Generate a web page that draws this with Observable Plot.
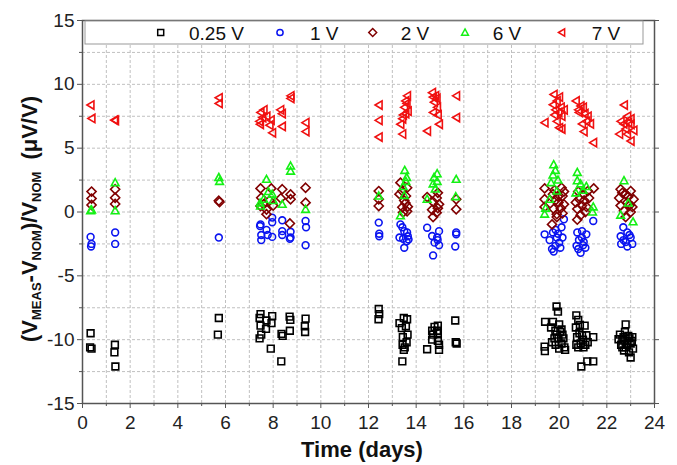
<!DOCTYPE html>
<html><head><meta charset="utf-8">
<script src="https://cdn.jsdelivr.net/npm/d3@7"></script>
<script src="https://cdn.jsdelivr.net/npm/@observablehq/plot@0.6"></script>
<style>
body{margin:0;background:#fff}
svg{font-family:"Liberation Sans",Arial,sans-serif}
</style>
</head><body><div id="chart"></div>
<script>
const seriesNames = ["0.25 V", "1 V", "2 V", "6 V", "7 V"];
const seriesColors = ["#000000", "#0a14f0", "#800000", "#14f014", "#f01010"];
const xTicks = [0, 2, 4, 6, 8, 10, 12, 14, 16, 18, 20, 22, 24];
const yTicks = [-15, -10, -5, 0, 5, 10, 15];

const v025 = [
[0.34,-9.5],[0.32,-10.6],[0.38,-10.7],
[1.36,-10.4],[1.34,-11.0],[1.38,-12.1],
[5.72,-8.3],[5.68,-9.6],
[7.47,-8.0],[7.43,-8.3],[7.47,-8.9],[7.43,-9.9],[7.5,-9.6],[7.72,-8.5],[7.7,-9.15],[7.96,-8.15],[7.93,-8.7],[7.9,-10.7],[8.35,-9.55],[8.4,-9.7],[8.34,-11.7],[8.69,-8.2],[8.72,-8.45],[8.7,-9.3],[9.36,-8.35],[9.33,-8.95],[9.34,-9.4],
[12.43,-7.6],[12.45,-8.0],[12.42,-8.4],
[13.48,-8.3],[13.62,-8.4],[13.3,-8.7],[13.57,-8.95],[13.4,-9.1],[13.64,-9.6],[13.44,-9.8],[13.6,-10.2],[13.43,-10.4],[13.52,-10.6],[13.48,-10.8],[13.42,-11.7],
[14.91,-8.9],[14.77,-9.0],[14.67,-9.3],[14.88,-9.3],[14.71,-9.6],[14.91,-9.5],[14.67,-10.0],[14.91,-10.1],[14.96,-10.4],[14.46,-10.75],[14.96,-10.8],
[15.64,-8.5],[15.66,-10.2],[15.7,-10.3],
[19.89,-7.4],[19.95,-7.8],[19.41,-8.6],[19.74,-8.6],[20.0,-8.8],[19.66,-9.05],[19.84,-9.3],[20.1,-9.2],[19.9,-9.6],[20.14,-9.6],[19.7,-10.2],[19.97,-9.9],[20.1,-10.3],[20.22,-10.6],[20.0,-10.7],[19.39,-10.55],[19.4,-10.9],[19.8,-9.9],[20.05,-9.4],[19.85,-10.4],[20.18,-9.9],[20.25,-10.8],
[20.72,-8.1],[20.8,-8.45],[20.7,-9.05],[21.07,-8.9],[20.87,-8.85],[20.75,-9.8],[20.96,-9.65],[21.14,-9.65],[21.43,-9.8],[20.9,-10.3],[21.02,-10.6],[20.72,-10.4],[21.2,-10.2],[20.93,-12.1],[21.18,-11.7],[21.43,-11.7],[20.85,-9.5],[21.0,-10.0],[21.1,-10.4],[20.8,-10.6],
[22.79,-8.8],[22.76,-9.4],[22.55,-9.6],[22.9,-9.7],[23.07,-9.8],[22.65,-10.0],[22.86,-10.1],[22.49,-9.97],[23.0,-10.3],[22.6,-10.4],[22.79,-10.6],[22.93,-11.0],[23.0,-11.4],[22.72,-10.85],[23.1,-10.7],[22.7,-9.8],[22.85,-10.4],[22.95,-9.9],[22.65,-10.6],[23.05,-10.1]
];
const v1 = [
[0.34,-1.95],[0.38,-2.5],[0.36,-2.7],
[1.37,-1.6],[1.37,-2.5],
[5.72,-2.0],
[7.47,-0.97],[7.45,-1.1],[7.5,-1.8],[7.5,-2.2],[7.72,-1.4],[7.77,-1.8],[7.96,-0.44],[7.96,-0.8],[7.96,-1.95],[8.38,-0.65],[8.38,-1.5],[8.38,-1.8],[8.73,-1.55],[8.73,-2.0],[8.7,-2.1],[9.36,-0.7],[9.38,-1.2],[9.36,-2.6],
[12.43,-0.83],[12.45,-1.7],[12.45,-1.9],
[13.34,-0.97],[13.42,-1.2],[13.5,-1.5],[13.62,-1.6],[13.3,-2.0],[13.65,-1.9],[13.45,-2.1],[13.6,-2.3],[13.5,-2.8],[13.68,-2.15],
[14.46,-1.23],[14.67,-1.88],[14.96,-1.5],[14.88,-2.0],[14.77,-2.4],[14.96,-2.6],[14.71,-3.4],[14.9,-2.2],
[15.68,-1.6],[15.68,-1.75],[15.64,-2.7],
[19.39,-1.75],[19.74,-1.6],[20.1,-1.2],[20.2,-0.57],[19.9,-2.0],[19.84,-2.65],[19.7,-2.9],[20.0,-2.4],[20.14,-2.0],[19.95,-1.7],[19.77,-3.1],[19.6,-2.2],[20.05,-2.8],[19.85,-1.4],
[20.76,-1.6],[20.96,-1.5],[21.14,-1.75],[20.83,-2.2],[21.03,-2.35],[20.73,-2.65],[20.9,-3.2],[21.1,-2.8],[21.43,-0.7],[20.95,-2.0],[20.8,-2.9],[21.0,-2.6],
[22.69,-1.2],[22.86,-1.6],[22.58,-1.9],[23.0,-2.0],[22.79,-2.35],[22.7,-2.2],[23.07,-2.5],[22.86,-2.7],[22.95,-1.8],[22.6,-2.5]
];
const v2 = [
[0.38,1.6],[0.38,1.05],[0.38,0.55],
[1.37,1.78],[1.37,1.12],[1.37,0.63],
[5.72,0.88],[5.75,0.78],
[7.47,1.85],[7.5,1.12],[7.47,0.47],[7.72,0.2],[7.72,-0.17],[7.92,1.85],[8.0,0.5],[8.38,1.78],[8.32,1.07],[8.73,1.38],[8.73,1.0],[8.7,-0.9],[9.36,1.9],[9.36,0.73],[7.6,0.6],[7.85,0.9],
[12.43,1.64],[12.43,1.0],[12.43,0.47],
[13.34,2.3],[13.42,1.64],[13.3,1.4],[13.62,1.9],[13.57,1.25],[13.5,0.9],[13.65,0.42],[13.42,0.37],[13.62,0.05],[13.45,-0.03],[13.55,0.7],
[14.46,1.17],[14.91,1.5],[14.86,1.1],[14.71,0.8],[14.96,0.6],[14.67,0.18],[14.86,-0.05],[14.71,-0.4],[14.91,0.3],
[15.68,1.0],[15.68,0.21],
[19.39,1.85],[19.39,1.0],[19.39,0.4],[19.74,1.4],[19.84,0.9],[20.1,1.9],[20.14,1.25],[19.97,0.75],[19.77,0.24],[20.07,0.3],[19.9,-0.17],[20.14,-0.1],[19.7,-0.97],[19.9,-0.4],[19.8,1.7],[20.2,0.6],[19.95,1.2],[20.2,1.6],
[20.7,0.75],[20.76,0.24],[21.03,1.4],[21.2,1.64],[21.45,1.85],[20.9,-0.25],[21.1,0.0],[20.96,0.5],[20.76,-0.6],[21.25,1.1],[20.85,1.0],[21.05,0.9],[20.8,1.6],[21.15,0.4],
[22.58,1.78],[22.79,1.4],[23.0,1.64],[22.52,1.1],[22.86,0.75],[23.07,0.4],[22.72,0.1],[23.0,0.0],[22.79,-0.4],[22.58,0.5],[23.12,1.0],[22.65,1.5],[22.9,1.2],[22.95,0.5]
];
const v6 = [
[0.38,0.16],[0.34,0.1],
[1.37,2.3],[1.37,0.1],
[5.72,2.7],[5.75,2.4],
[7.72,2.56],[7.47,0.47],[7.6,1.0],[7.96,1.4],[8.38,0.6],[8.73,3.6],[8.73,3.2],[9.36,0.2],[7.45,0.7],[7.8,1.6],[8.0,0.9],
[12.43,1.25],
[13.52,3.26],[13.6,2.7],[13.57,2.4],[13.34,-0.3],[13.5,1.3],[13.45,2.0],
[14.88,3.0],[14.75,2.7],[14.71,2.2],[14.88,2.4],[14.46,1.0],[14.8,1.8],
[15.68,2.56],[15.66,1.2],
[19.77,3.7],[19.84,3.26],[19.74,2.9],[19.66,2.3],[19.9,1.64],[19.39,-0.17],[19.43,0.3],[19.95,2.5],[19.6,1.0],
[20.76,3.1],[20.76,2.45],[20.9,2.2],[21.14,2.0],[21.43,0.4],[21.4,0.0],[20.7,1.5],[21.0,1.7],
[22.72,2.45],[22.58,-0.25],[23.1,-0.77],[22.9,0.7]
];
const v7 = [
[0.34,8.38],[0.38,7.33],
[1.37,7.18],[1.33,7.2],
[5.72,8.95],[5.72,8.5],
[7.47,7.8],[7.6,8.0],[7.42,7.1],[7.72,7.5],[7.45,6.87],[7.9,7.2],[7.96,6.2],[8.3,8.0],[8.37,7.7],[8.37,6.7],[8.73,9.1],[8.73,8.9],[9.36,7.0],[9.36,6.3],[7.55,7.4],[7.85,6.8],
[12.43,8.38],[12.43,7.18],[12.43,5.87],
[13.62,9.1],[13.55,8.7],[13.5,8.2],[13.55,7.7],[13.42,7.3],[13.34,6.87],[13.42,6.1],[13.6,8.5],[13.65,7.9],[13.45,7.6],
[14.67,9.35],[14.8,9.1],[14.75,8.6],[14.88,8.2],[14.71,7.8],[14.91,7.6],[14.96,6.87],[14.46,6.34],[14.86,8.9],[14.7,9.0],
[15.68,9.1],[15.68,7.4],
[19.39,7.0],[19.77,9.2],[19.9,8.7],[20.0,9.0],[19.84,8.0],[20.07,8.2],[19.97,7.8],[20.1,7.5],[19.9,7.1],[20.0,6.6],[20.1,6.5],[19.74,8.4],[19.8,7.6],[20.2,8.0],
[20.7,8.7],[20.9,8.3],[20.83,7.8],[21.07,7.7],[21.2,7.5],[20.96,6.9],[21.03,6.3],[21.43,5.43],[21.14,7.1],[20.8,8.0],[21.0,8.2],[21.3,6.9],
[22.72,8.38],[22.86,7.5],[23.0,7.3],[22.58,7.1],[23.0,6.87],[22.79,6.5],[22.52,6.1],[23.0,5.56],[23.12,6.4],[22.7,6.9],[22.9,7.0],[22.85,6.1]
];

// custom symbols
const triUp = {draw(ctx, size){ const r = Math.sqrt(size/Math.PI); ctx.moveTo(0,-r*1.15); ctx.lineTo(r*1.1,r*0.85); ctx.lineTo(-r*1.1,r*0.85); ctx.closePath(); }};
const triLeft = {draw(ctx, size){ const r = Math.sqrt(size/Math.PI); ctx.moveTo(-r*1.05,0); ctx.lineTo(r*0.95,-r*1.2); ctx.lineTo(r*0.95,r*1.2); ctx.closePath(); }};
const symbols = ["square", "circle", "diamond2", triUp, triLeft];
const radii = [3.8, 3.4, 4.1, 3.5, 3.5];
const datasets = [v025, v1, v2, v6, v7];

const minorX = d3.range(1, 24, 2);
const minorY = [-12.5, -7.5, -2.5, 2.5, 7.5, 12.5];
const axisColor = "#555";

const chart = Plot.plot({
  width: 677, height: 465,
  marginLeft: 82, marginRight: 23, marginTop: 20, marginBottom: 62,
  x: {domain: [0, 24]},
  y: {domain: [-15, 15]},
  style: {fontFamily: "'Liberation Sans', Arial, sans-serif", background: "#fff", color: "#222"},
  marks: [
    Plot.gridX(d3.range(1, 24), {stroke: "#c0c0c0", strokeOpacity: 1, strokeDasharray: "3,2"}),
    Plot.gridY(d3.range(-12.5, 15, 2.5), {stroke: "#c0c0c0", strokeOpacity: 1, strokeDasharray: "3,2"}),
    ...datasets.map((data, i) => Plot.dot(data, {
      x: d => d[0], y: d => d[1], symbol: symbols[i], r: radii[i],
      stroke: seriesColors[i], fill: "none", strokeWidth: 1.6
    })),
    Plot.axisX(xTicks, {tickSize: 5, tickPadding: 7, fontSize: 19, stroke: axisColor, tickFormat: d => String(d), label: null}),
    Plot.axisX(minorX, {tickSize: 3, tickFormat: () => "", stroke: axisColor, label: null}),
    Plot.axisY(yTicks, {tickSize: 5, tickPadding: 3, fontSize: 19, stroke: axisColor, tickFormat: d => String(d), label: null}),
    Plot.axisY(minorY, {tickSize: 3, tickFormat: () => "", stroke: axisColor, label: null}),
    Plot.axisY(yTicks, {anchor: "right", tickSize: 4, tickFormat: () => "", stroke: axisColor, label: null}),
    Plot.frame({stroke: axisColor, strokeWidth: 1.5})
  ]
});

const svg = d3.select(chart);

// legend box
const lg = svg.append("g").attr("text-anchor", "start");
lg.append("rect").attr("x", 85).attr("y", 21).attr("width", 558).attr("height", 23)
  .attr("fill", "#fff").attr("stroke", "#999").attr("stroke-width", 1);
const legSymX = [160.7, 280, 372.7, 465, 561.7];
const legTxtX = [189, 310, 400.7, 492.7, 591.7];
const legSym = [d3.symbolSquare, d3.symbolCircle, d3.symbolDiamond2, triUp, triLeft];
const legSize = [36, 30, 40, 30, 30];
seriesNames.forEach((name, i) => {
  lg.append("path").attr("d", d3.symbol(legSym[i], legSize[i])())
    .attr("transform", `translate(${legSymX[i]},32.5)`)
    .attr("fill", "none").attr("stroke", seriesColors[i]).attr("stroke-width", 1.5);
  lg.append("text").attr("x", legTxtX[i]).attr("y", 39.5).attr("font-size", 19)
    .attr("text-anchor", "start").attr("fill", "#111").text(name);
});

// x label
svg.append("text").attr("x", 362).attr("y", 457).attr("text-anchor", "middle")
  .attr("font-size", 22).attr("font-weight", "bold").attr("fill", "#111").text("Time (days)");

// y label with subscripts
const yl = svg.append("text").attr("transform", "translate(37,219) rotate(-90)")
  .attr("text-anchor", "middle").attr("font-size", 22).attr("font-weight", "bold").attr("fill", "#111");
yl.append("tspan").text("(V");
yl.append("tspan").attr("font-size", 13).attr("dy", 4).text("MEAS");
yl.append("tspan").attr("dy", -4).text("-V");
yl.append("tspan").attr("font-size", 13).attr("dy", 4).text("NOM");
yl.append("tspan").attr("dy", -4).text(")/V");
yl.append("tspan").attr("font-size", 13).attr("dy", 4).text("NOM");
yl.append("tspan").attr("dy", -4).attr("dx", 12).text("(\u03bcV/V)");

document.getElementById("chart").appendChild(chart);
</script>
</body></html>
